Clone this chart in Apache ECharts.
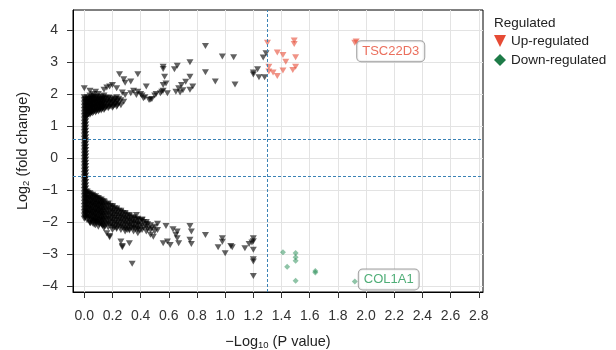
<!DOCTYPE html>
<html><head><meta charset="utf-8">
<script src="https://cdn.jsdelivr.net/npm/echarts@6/dist/echarts.min.js"></script>
<style>html,body{margin:0;padding:0;background:#fff}#c{width:616px;height:350px}</style>
</head><body><div id="c"></div>
<script>
const xTicks = [0.0,0.2,0.4,0.6,0.8,1.0,1.2,1.4,1.6,1.8,2.0,2.2,2.4,2.6,2.8];
const yTicks = [-4,-3,-2,-1,0,1,2,3,4];
const pThreshold = 1.301;
const fcThreshold = 0.585;

// not significant: column near x=0
const nsColumn = [
[0,1.9],[0,1.8],[0,1.7],[0,1.6],[0,1.5],[0,1.4],[0,1.3],[0,1.2],[0,1.1],[0,1.0],[0,0.9],[0,0.8],[0,0.7],[0,0.6],[0,0.5],[0,0.4],[0,0.3],[0,0.2],[0,0.1],[0,0.0],
[0,-0.1],[0,-0.2],[0,-0.3],[0,-0.4],[0,-0.5],[0,-0.6],[0,-0.7],[0,-0.8],[0,-0.9],[0,-1.0],[0,-1.1],[0,-1.2],[0,-1.3],[0,-1.4],[0,-1.5],[0,-1.6],[0,-1.7],[0,-1.8],[0,-1.9],
[0.01,1.85],[0.01,1.75],[0.01,1.65],[0.01,1.55],[0.01,1.45],[0.01,1.35],[0.01,1.25],[0.01,1.15],[0.01,1.05],[0.01,0.95],[0.01,0.85],[0.01,0.75],[0.01,0.65],[0.01,0.55],[0.01,0.45],[0.01,0.35],[0.01,0.25],[0.01,0.15],[0.01,0.05],
[0.01,-0.05],[0.01,-0.15],[0.01,-0.25],[0.01,-0.35],[0.01,-0.45],[0.01,-0.55],[0.01,-0.65],[0.01,-0.75],[0.01,-0.85],[0.01,-0.95],[0.01,-1.05],[0.01,-1.15],[0.01,-1.25],[0.01,-1.35],[0.01,-1.45],[0.01,-1.55],[0.01,-1.65],[0.01,-1.75],[0.01,-1.85],
[0.005,1.83],[0.005,1.73],[0.005,1.63],[0.005,1.53],[0.005,1.43],[0.005,1.33],[0.005,1.23],[0.005,1.13],[0.005,1.03],[0.005,0.93],[0.005,0.83],[0.005,0.73],[0.005,0.63],[0.005,0.53],[0.005,0.43],[0.005,0.33],[0.005,0.23],[0.005,0.13],[0.005,0.03],
[0.005,-0.07],[0.005,-0.17],[0.005,-0.27],[0.005,-0.37],[0.005,-0.47],[0.005,-0.57],[0.005,-0.67],[0.005,-0.77],[0.005,-0.87],[0.005,-0.97],[0.005,-1.07],[0.005,-1.17],[0.005,-1.27],[0.005,-1.37],[0.005,-1.47],[0.005,-1.57],[0.005,-1.67],[0.005,-1.77],[0.005,-1.87]
];
// not significant: upper mass and scattered points
const nsUpper = [
[0.02,1.3],[0.02,1.45],[0.02,1.6],[0.02,1.75],[0.02,1.9],
[0.04,1.35],[0.04,1.5],[0.04,1.65],[0.04,1.8],[0.04,1.95],
[0.06,1.4],[0.06,1.55],[0.06,1.7],[0.06,1.85],[0.06,2.0],
[0.08,1.42],[0.08,1.57],[0.08,1.72],[0.08,1.87],
[0.10,1.45],[0.10,1.6],[0.10,1.75],[0.10,1.9],
[0.12,1.48],[0.12,1.62],[0.12,1.77],[0.12,1.92],
[0.14,1.5],[0.14,1.65],[0.14,1.8],[0.14,1.95],
[0.17,1.55],[0.17,1.7],[0.17,1.85],
[0.20,1.57],[0.20,1.72],[0.20,1.87],
[0.23,1.6],[0.23,1.75],[0.23,1.9],
[0.26,1.65],[0.26,1.8],
[0.03,1.37],[0.03,1.52],[0.03,1.67],[0.03,1.82],
[0.05,1.42],[0.05,1.57],[0.05,1.72],[0.05,1.87],
[0.07,1.47],[0.07,1.62],[0.07,1.77],[0.07,1.92],
[0.09,1.5],[0.09,1.65],[0.09,1.8],
[0.11,1.52],[0.11,1.67],[0.11,1.82],
[0.13,1.55],[0.13,1.7],[0.13,1.85],
[0.155,1.58],[0.155,1.73],[0.155,1.88],
[0.185,1.62],[0.185,1.77],
[0.215,1.65],[0.215,1.8],
[0.245,1.7],[0.245,1.85],
[0.025,1.34],[0.025,1.49],[0.025,1.64],[0.025,1.79],
[0.045,1.39],[0.045,1.54],[0.045,1.69],[0.045,1.84],
[0.065,1.44],[0.065,1.59],[0.065,1.74],[0.065,1.89],
[0.085,1.46],[0.085,1.61],[0.085,1.76],[0.085,1.91],
[0.105,1.49],[0.105,1.64],[0.105,1.79],
[0.125,1.52],[0.125,1.66],[0.125,1.81],
[0.145,1.54],[0.145,1.69],[0.145,1.84],
[0.175,1.59],[0.175,1.74],[0.175,1.89],
[0.205,1.61],[0.205,1.76],
[0.235,1.64],[0.235,1.79],
[0.035,1.41],[0.035,1.56],[0.035,1.71],[0.035,1.86],
[0.055,1.46],[0.055,1.61],[0.055,1.76],[0.055,1.91],
[0.075,1.51],[0.075,1.66],[0.075,1.81],
[0.095,1.54],[0.095,1.69],[0.095,1.84],
[0.115,1.56],[0.115,1.71],[0.115,1.86],
[0.135,1.59],[0.135,1.74],[0.135,1.89],
[0.16,1.62],[0.16,1.77],
[0.19,1.66],[0.19,1.81],
[0.22,1.69],[0.22,1.84],
[0.0,2.18],[0.04,2.1],[0.08,2.07],[0.10,2.0],[0.14,2.13],[0.16,2.2],[0.18,2.23],[0.20,2.28],[0.23,2.18],
[0.25,2.62],[0.28,2.46],[0.29,2.35],[0.27,2.05],[0.29,1.97],[0.28,1.76],[0.33,2.39],[0.33,2.02],[0.35,2.1],
[0.37,1.97],[0.38,2.62],[0.38,2.07],[0.40,2.0],[0.41,1.95],[0.42,1.87],[0.43,1.9],[0.44,2.23],[0.46,1.81],
[0.47,1.83],[0.48,1.84],[0.50,1.95],[0.51,2.0],[0.54,2.02],[0.55,2.07],[0.56,2.1],[0.56,2.28],[0.58,2.33],
[0.59,2.02],[0.56,2.85],[0.56,2.78],[0.57,2.54],[0.64,2.77],[0.66,2.88],[0.65,2.07],[0.67,2.18],[0.69,2.28],
[0.72,2.38],[0.75,2.54],[0.75,2.99],[0.75,2.13],[0.77,2.23],[0.70,2.12],[0.68,2.05],[0.86,3.5],[0.86,2.68],
[0.93,2.39],[0.98,3.17],[1.06,3.15],[1.07,2.30],[1.20,2.67],[1.20,2.61],[1.24,2.52],[1.23,2.77],[1.28,2.52],
[1.27,3.14],[1.29,3.27]
];
// not significant: lower mass and scattered points
const nsLower = [
[0.02,-1.05],[0.02,-1.2],[0.02,-1.35],[0.02,-1.5],[0.02,-1.65],[0.02,-1.8],[0.02,-1.95],
[0.04,-1.1],[0.04,-1.25],[0.04,-1.4],[0.04,-1.55],[0.04,-1.7],[0.04,-1.85],[0.04,-2.0],
[0.06,-1.15],[0.06,-1.3],[0.06,-1.45],[0.06,-1.6],[0.06,-1.75],[0.06,-1.9],[0.06,-2.05],
[0.08,-1.2],[0.08,-1.35],[0.08,-1.5],[0.08,-1.65],[0.08,-1.8],[0.08,-1.95],[0.08,-2.1],
[0.10,-1.25],[0.10,-1.4],[0.10,-1.55],[0.10,-1.7],[0.10,-1.85],[0.10,-2.0],[0.10,-2.15],
[0.12,-1.3],[0.12,-1.45],[0.12,-1.6],[0.12,-1.75],[0.12,-1.9],[0.12,-2.05],
[0.14,-1.35],[0.14,-1.5],[0.14,-1.65],[0.14,-1.8],[0.14,-1.95],[0.14,-2.1],[0.14,-2.2],
[0.17,-1.42],[0.17,-1.57],[0.17,-1.72],[0.17,-1.87],[0.17,-2.02],[0.17,-2.17],
[0.20,-1.5],[0.20,-1.65],[0.20,-1.8],[0.20,-1.95],[0.20,-2.1],[0.20,-2.25],
[0.23,-1.58],[0.23,-1.73],[0.23,-1.88],[0.23,-2.03],[0.23,-2.18],
[0.26,-1.65],[0.26,-1.8],[0.26,-1.95],[0.26,-2.1],[0.26,-2.25],
[0.29,-1.72],[0.29,-1.87],[0.29,-2.02],[0.29,-2.17],[0.29,-2.3],
[0.32,-1.78],[0.32,-1.93],[0.32,-2.08],[0.32,-2.23],
[0.35,-1.85],[0.35,-2.0],[0.35,-2.15],[0.35,-2.3],
[0.38,-1.9],[0.38,-2.05],[0.38,-2.2],[0.38,-2.35],
[0.41,-1.95],[0.41,-2.1],[0.41,-2.25],
[0.44,-2.0],[0.44,-2.15],[0.44,-2.3],
[0.47,-2.1],[0.47,-2.25],[0.47,-2.4],
[0.50,-2.15],[0.50,-2.3],
[0.03,-1.12],[0.03,-1.27],[0.03,-1.42],[0.03,-1.57],[0.03,-1.72],[0.03,-1.87],
[0.05,-1.17],[0.05,-1.32],[0.05,-1.47],[0.05,-1.62],[0.05,-1.77],[0.05,-1.92],
[0.07,-1.22],[0.07,-1.37],[0.07,-1.52],[0.07,-1.67],[0.07,-1.82],[0.07,-1.97],
[0.09,-1.27],[0.09,-1.42],[0.09,-1.57],[0.09,-1.72],[0.09,-1.87],[0.09,-2.02],
[0.11,-1.32],[0.11,-1.47],[0.11,-1.62],[0.11,-1.77],[0.11,-1.92],[0.11,-2.07],
[0.13,-1.37],[0.13,-1.52],[0.13,-1.67],[0.13,-1.82],[0.13,-1.97],[0.13,-2.12],
[0.155,-1.45],[0.155,-1.6],[0.155,-1.75],[0.155,-1.9],[0.155,-2.05],
[0.185,-1.5],[0.185,-1.65],[0.185,-1.8],[0.185,-1.95],[0.185,-2.1],
[0.215,-1.57],[0.215,-1.72],[0.215,-1.87],[0.215,-2.02],[0.215,-2.17],
[0.245,-1.65],[0.245,-1.8],[0.245,-1.95],[0.245,-2.1],
[0.275,-1.72],[0.275,-1.87],[0.275,-2.02],[0.275,-2.17],
[0.305,-1.8],[0.305,-1.95],[0.305,-2.1],[0.305,-2.25],
[0.335,-1.87],[0.335,-2.02],[0.335,-2.17],
[0.365,-1.92],[0.365,-2.07],[0.365,-2.22],
[0.395,-1.97],[0.395,-2.12],[0.395,-2.27],
[0.025,-1.09],[0.025,-1.24],[0.025,-1.39],[0.025,-1.54],[0.025,-1.69],[0.025,-1.84],
[0.045,-1.14],[0.045,-1.29],[0.045,-1.44],[0.045,-1.59],[0.045,-1.74],[0.045,-1.89],[0.045,-2.04],
[0.065,-1.19],[0.065,-1.34],[0.065,-1.49],[0.065,-1.64],[0.065,-1.79],[0.065,-1.94],
[0.085,-1.24],[0.085,-1.39],[0.085,-1.54],[0.085,-1.69],[0.085,-1.84],[0.085,-1.99],
[0.105,-1.29],[0.105,-1.44],[0.105,-1.59],[0.105,-1.74],[0.105,-1.89],[0.105,-2.04],
[0.125,-1.34],[0.125,-1.49],[0.125,-1.64],[0.125,-1.79],[0.125,-1.94],[0.125,-2.09],
[0.145,-1.39],[0.145,-1.54],[0.145,-1.69],[0.145,-1.84],[0.145,-1.99],[0.145,-2.14],
[0.17,-1.46],[0.17,-1.61],[0.17,-1.76],[0.17,-1.91],[0.17,-2.06],
[0.20,-1.54],[0.20,-1.69],[0.20,-1.84],[0.20,-1.99],[0.20,-2.14],
[0.23,-1.62],[0.23,-1.77],[0.23,-1.92],[0.23,-2.07],[0.23,-2.22],
[0.26,-1.69],[0.26,-1.84],[0.26,-1.99],[0.26,-2.14],
[0.29,-1.76],[0.29,-1.91],[0.29,-2.06],[0.29,-2.21],
[0.32,-1.82],[0.32,-1.97],[0.32,-2.12],[0.32,-2.27],
[0.35,-1.89],[0.35,-2.04],[0.35,-2.19],
[0.38,-1.94],[0.38,-2.09],[0.38,-2.24],
[0.42,-2.0],[0.42,-2.17],
[0.45,-2.07],[0.45,-2.22],
[0.04,-2.03],[0.07,-2.09],[0.08,-1.99],[0.16,-2.35],[0.18,-2.44],[0.18,-2.48],[0.26,-2.61],[0.27,-2.75],
[0.27,-2.79],[0.32,-2.67],[0.34,-3.31],[0.37,-1.78],[0.41,-1.92],[0.44,-2.06],[0.48,-2.2],[0.49,-2.46],
[0.52,-2.06],[0.52,-2.25],[0.56,-2.67],[0.58,-2.13],[0.59,-2.61],[0.61,-2.72],[0.63,-2.23],[0.66,-2.30],
[0.66,-2.51],[0.67,-2.67],[0.65,-2.4],[0.75,-2.13],[0.76,-2.30],[0.75,-2.56],[0.76,-2.69],[0.86,-2.41],
[0.98,-2.51],[0.98,-2.62],[0.95,-2.79],[1.0,-2.98],[1.04,-2.75],[1.05,-2.79],[1.14,-2.82],[1.17,-2.69],
[1.19,-2.64],[1.20,-2.51],[1.20,-2.6],[1.20,-2.87],[1.20,-3.17],[1.20,-3.24],[1.20,-3.69]
];
const upPoints = [
[1.30,3.60],[1.37,3.30],[1.41,3.22],[1.43,3.01],[1.49,3.67],[1.49,3.56],[1.50,3.15],[1.50,2.85],
[1.48,2.75],[1.41,2.73],[1.37,2.56],[1.34,2.67],[1.31,2.85],[1.31,2.70],[1.93,3.64],[1.92,3.60]
];
const downPoints = [
[1.41,-2.95],[1.50,-2.97],[1.50,-3.10],[1.50,-3.21],[1.44,-3.40],[1.50,-3.84],[1.64,-3.53],[1.64,-3.58],[1.92,-3.86]
];
const geneNames = ['TSC22D3','COL1A1'];
const genePoints = [[1.93,3.63],[1.92,-3.86]];

const FONT = "'Liberation Sans', Arial, Helvetica, sans-serif";
const RED = '#E64B35', GREEN = '#1f8a4f';
const fmtY = v => v < 0 ? '\u2212' + Math.abs(v) : String(v);

const chart = echarts.init(document.getElementById('c'), null, {renderer:'canvas'});
chart.setOption({
  animation:false,
  textStyle:{fontFamily:FONT},
  title:{text:'Regulated', left:494, top:16, padding:0,
    textStyle:{fontSize:13.5, fontWeight:'normal', color:'#222', fontFamily:FONT}},
  legend:{orient:'vertical', left:494, top:34, itemWidth:12, itemHeight:12, itemGap:5, padding:0,
    selectedMode:false,
    textStyle:{fontSize:13.5, color:'#222', fontFamily:FONT},
    data:[
      {name:'Up-regulated', icon:'path://M0,0L10,0L5,10Z', itemStyle:{color:RED, opacity:1}},
      {name:'Down-regulated', icon:'diamond', itemStyle:{color:'#1e7b48', opacity:1}}
    ]},
  grid:{left:73, right:133, top:10, bottom:58, outerBoundsMode:'none', containLabel:false,
    show:true, borderColor:'#000', borderWidth:1, backgroundColor:'#fff'},
  xAxis:{type:'value', min:-0.08, max:2.83,
    axisLine:{show:true, onZero:false, lineStyle:{color:'#000'}},
    axisTick:{show:true, length:6, customValues:xTicks, lineStyle:{color:'#333'}},
    axisLabel:{customValues:xTicks, formatter:v=>Number(v).toFixed(1), margin:17, fontSize:14, color:'#333', fontFamily:FONT},
    splitLine:{show:true, lineStyle:{color:'#e3e3e3'}},
    name:'{a|\u2212Log}{s|10}{a| (P value)}', nameLocation:'middle', nameGap:41,
    nameTextStyle:{rich:{a:{fontSize:14.5, color:'#222', fontFamily:FONT, lineHeight:18}, s:{fontSize:9.5, color:'#222', fontFamily:FONT, padding:[7,0,0,0], lineHeight:18}}}
  },
  yAxis:{type:'value', min:-4.19, max:4.625,
    axisLine:{show:true, onZero:false, lineStyle:{color:'#000'}},
    axisTick:{show:true, length:6, customValues:yTicks, lineStyle:{color:'#333'}},
    axisLabel:{customValues:yTicks, formatter:fmtY, margin:15, fontSize:14, color:'#333', fontFamily:FONT},
    splitLine:{show:true, lineStyle:{color:'#e3e3e3'}},
    name:'{a|Log}{s|2}{a| (fold change)}', nameLocation:'middle', nameGap:35, nameRotate:90,
    nameTextStyle:{rich:{a:{fontSize:14.5, color:'#222', fontFamily:FONT, lineHeight:18}, s:{fontSize:9.5, color:'#222', fontFamily:FONT, padding:[7,0,0,0], lineHeight:18}}}
  },
  series:[
    {type:'scatter', name:'thresholds', data:[], z:2, silent:true,
      markLine:{silent:true, symbol:['none','none'], label:{show:false}, animation:false,
        lineStyle:{type:[3,2], color:'#3b82b5', width:1},
        data:[{xAxis:pThreshold},{yAxis:fcThreshold},{yAxis:-fcThreshold}]}},
    {type:'scatter', name:'Not significant', data:nsColumn.concat(nsUpper, nsLower), z:3, silent:true,
      symbol:'triangle', symbolRotate:180, symbolSize:[7,6], itemStyle:{color:'#000', opacity:0.62}},
    {type:'scatter', name:'Up-regulated', data:upPoints, z:4, silent:true,
      symbol:'triangle', symbolRotate:180, symbolSize:[7,6], itemStyle:{color:RED, opacity:0.6}},
    {type:'scatter', name:'Down-regulated', data:downPoints, z:4, silent:true,
      symbol:'diamond', symbolSize:6, itemStyle:{color:GREEN, opacity:0.5}},
    {type:'scatter', name:'labels', z:6, silent:true, symbolSize:0,
      data:genePoints.map((p,i)=>({name:geneNames[i], value:p,
        label:{show:true, formatter:'{b}', position:'right',
          distance: i===0 ? 1 : 4, offset: i===0 ? [0,9.5] : [0,-2],
          color: i===0 ? RED : '#239a55', fontSize:13, fontFamily:FONT,
          backgroundColor:'#fff', borderColor:'#8a8a8a', borderWidth:1, borderRadius:4,
          padding:[4,5,3,5], lineHeight:13}}))}
  ]
});
</script></body></html>
